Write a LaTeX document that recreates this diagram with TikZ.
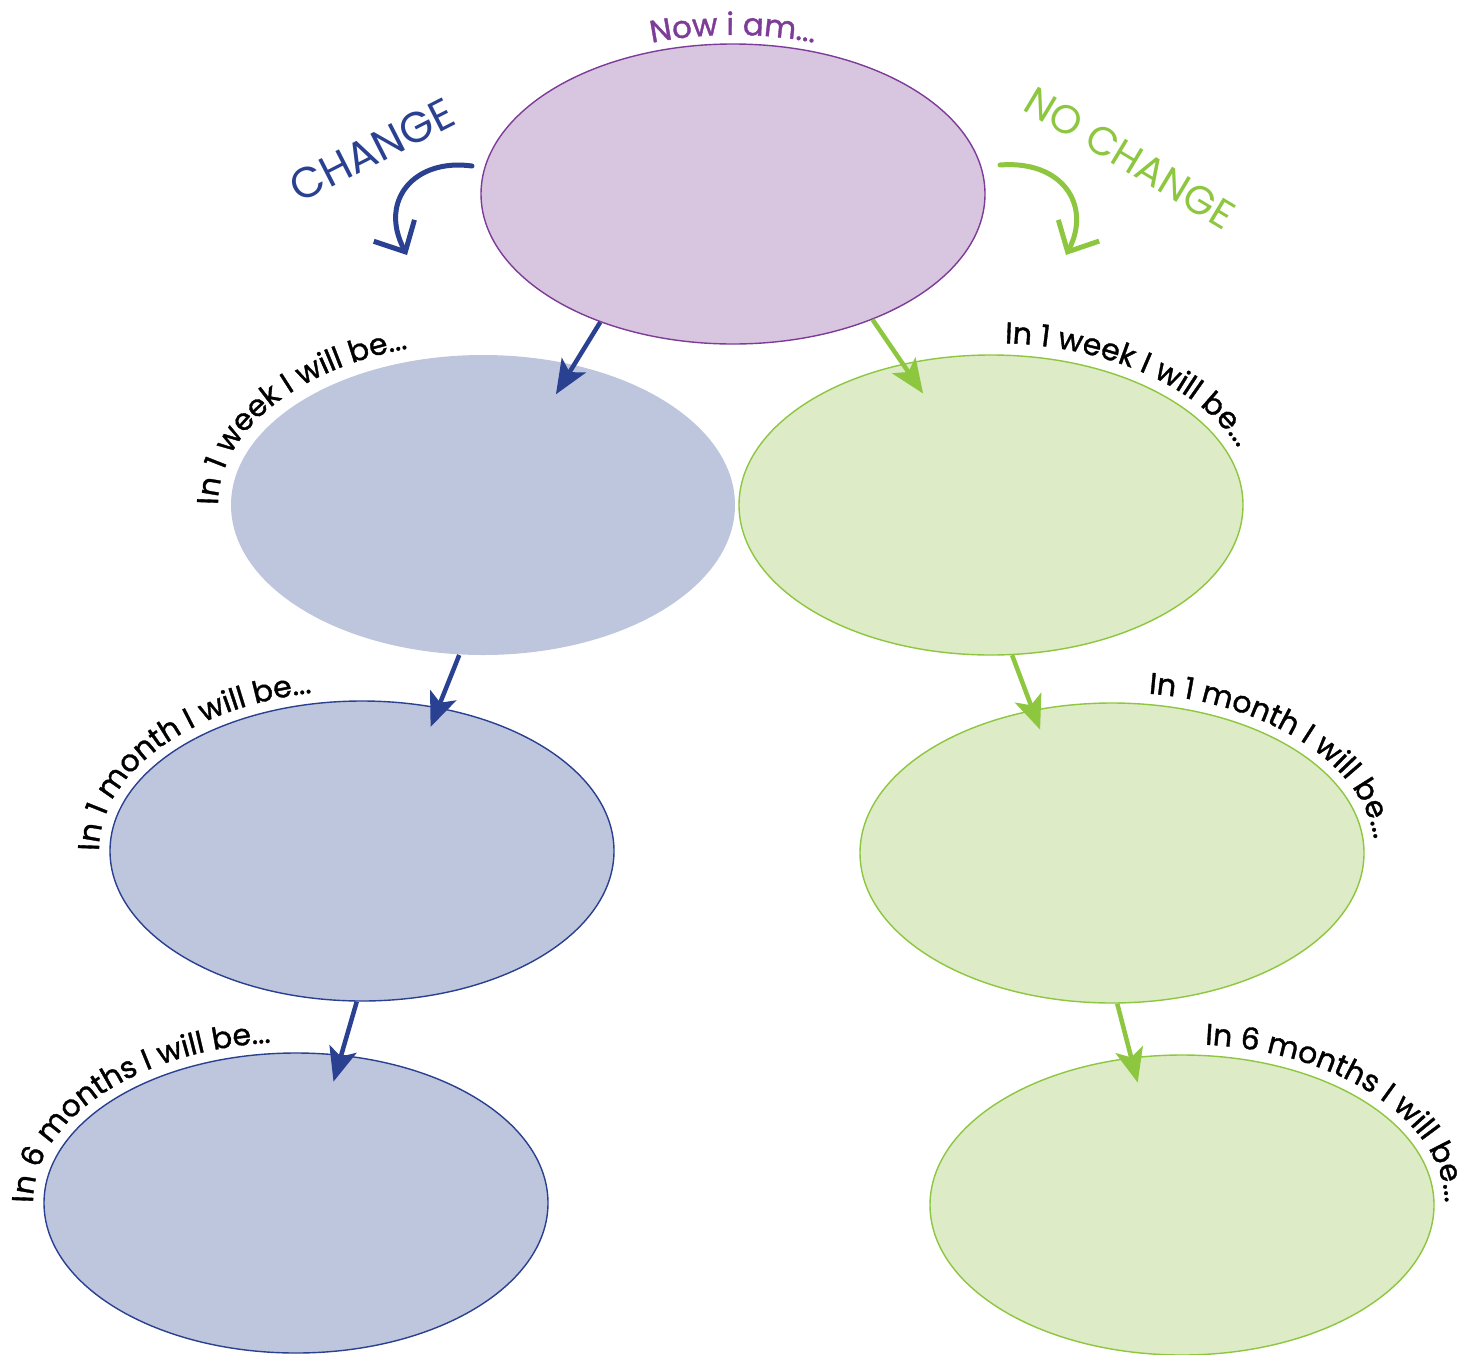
\documentclass[tikz,border=0pt]{standalone}
\usepackage{fontspec}
\setmainfont{Poppins}
\newfontfamily\lblfam{Poppins}[FakeBold=1.2]
\usetikzlibrary{shapes.geometric,arrows.meta,decorations.text}

\definecolor{chgblue}{RGB}{42,64,144}
\definecolor{chgfill}{RGB}{189,198,221}
\definecolor{keepgreen}{RGB}{141,198,63}
\definecolor{keepfill}{RGB}{221,235,198}
\definecolor{nowpurple}{RGB}{125,60,152}
\definecolor{nowfill}{RGB}{216,197,224}

\def\lbl{\lblfam\fontsize{30}{34}\selectfont}
\def\hdr{\fontsize{43}{48}\selectfont}

\tikzset{
  bubble/.style={ellipse, minimum width=504pt, minimum height=300pt,
    inner sep=0pt, line width=1.4pt},
  nowbub/.style={bubble, draw=nowpurple, fill=nowfill},
  chgbub/.style={bubble, draw=chgblue, fill=chgfill},
  keepbub/.style={bubble, draw=keepgreen, fill=keepfill},
  chgflow/.style={draw=chgblue, fill=chgblue, line width=4.5pt,
    -{Stealth[length=34pt, width=28pt, inset=8pt]}},
  keepflow/.style={draw=keepgreen, fill=keepgreen, line width=4.5pt,
    -{Stealth[length=34pt, width=28pt, inset=8pt]}},
  curlarrow/.style={line width=5pt, line cap=round,
    -{Straight Barb[length=24pt, width=46pt, line width=5pt]}},
  onarc/.style={decorate, decoration={text along path, text align=left,
    text color=black, text={|\lbl|#1}}}
}

\begin{document}
\begin{tikzpicture}[x=1pt, y=1pt]
  \useasboundingbox (0,0) rectangle (1481,-1355);

  % === BUBBLES ===
  \node[nowbub] (now) at (733,-194) {};
  \node[chgbub, draw=none] (w1) at (483,-505) {};
  \node[keepbub] (e1) at (991,-505) {};
  \node[chgbub] (w2) at (362,-851) {};
  \node[keepbub] (e2) at (1112,-853) {};
  \node[chgbub] (w3) at (296,-1203) {};
  \node[keepbub] (e3) at (1182,-1205) {};

  % === STRAIGHT ARROWS (tips sit inside the next bubble) ===
  \draw[chgflow, shorten >=-35pt] (now.224) -- (w1.57);
  \draw[keepflow, shorten >=-36pt] (now.318) -- (e1.122);
  \draw[chgflow, shorten >=-21pt] (w1.261) -- (w2.62);
  \draw[keepflow, shorten >=-21pt] (e1.278) -- (e2.119);
  \draw[chgflow, shorten >=-28pt] (w2.268) -- (w3.73);
  \draw[keepflow, shorten >=-26pt] (e2.272) -- (e3.109);

  % === CHANGE / NO CHANGE ===
  \coordinate (chgfrom) at (472,-166);
  \coordinate (chgto) at (407,-255);
  \draw[curlarrow, chgblue] (chgfrom) .. controls (415,-158) and (378,-200) .. (chgto);
  \node[chgblue, rotate=27, font=\hdr] (chglbl) at (372,-150) {CHANGE};

  \coordinate (keepfrom) at (1000,-165);
  \coordinate (keepto) at (1066,-255);
  \draw[curlarrow, keepgreen] (keepfrom) .. controls (1062,-160) and (1092,-205) .. (keepto);
  \node[keepgreen, rotate=-31, font=\fontsize{40}{46}\selectfont] (keeplbl)
    at (1130,-158) {NO CHANGE};

  % === LABELS ALONG THE BUBBLES ===
  \path[decorate, decoration={text along path, text align=center,
      text color=nowpurple, text={|\lblfam\fontsize{31}{35}\selectfont|Now i am...}}]
    ([shift={(150:261pt and 159pt)}]now.center)
    arc[start angle=150, end angle=30, x radius=261pt, y radius=159pt];

  \path[onarc={In 1 week I will be...}] ([shift={(180:265pt and 163pt)}]w1.center)
    arc[start angle=180, end angle=50, x radius=265pt, y radius=163pt];
  \path[onarc={In 1 month I will be...}] ([shift={(180:263pt and 161pt)}]w2.center)
    arc[start angle=180, end angle=50, x radius=263pt, y radius=161pt];
  \path[onarc={In 6 months I will be...}] ([shift={(180:263pt and 161pt)}]w3.center)
    arc[start angle=180, end angle=50, x radius=263pt, y radius=161pt];

  \path[onarc={In 1 week I will be...}] ([shift={(87:264pt and 162pt)}]e1.center)
    arc[start angle=87, end angle=-40, x radius=264pt, y radius=162pt];
  \path[onarc={In 1 month I will be...}] ([shift={(82:263pt and 161pt)}]e2.center)
    arc[start angle=82, end angle=-40, x radius=263pt, y radius=161pt];
  \path[onarc={In 6 months I will be...}] ([shift={(85:263pt and 161pt)}]e3.center)
    arc[start angle=85, end angle=-40, x radius=263pt, y radius=161pt];

\end{tikzpicture}
\end{document}
